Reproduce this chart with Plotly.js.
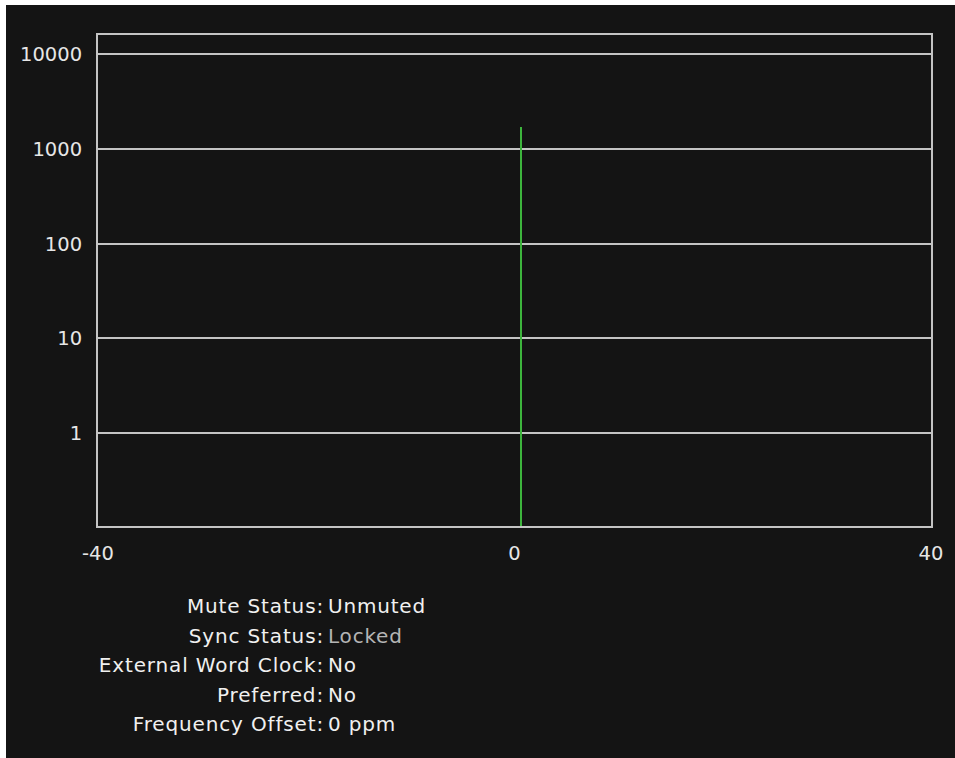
<!DOCTYPE html>
<html>
<head>
<meta charset="utf-8">
<script src="https://cdn.plot.ly/plotly-3.0.1.min.js"></script>
<style>
  html, body { margin: 0; padding: 0; background: #ffffff; width: 955px; height: 758px; overflow: hidden; }
  #panel { position: absolute; left: 6px; top: 5px; width: 949px; height: 753px; background: #141414; }
  #chart { position: absolute; left: 0; top: 0; width: 949px; height: 580px; }
  #status { position: absolute; left: 0; top: 587px; width: 949px; font-family: "DejaVu Sans", sans-serif; font-size: 20px; color: #f0f0f0; }
  .row { position: relative; height: 29.5px; line-height: 29.5px; }
  .lab { position: absolute; right: 631px; text-align: right; white-space: nowrap; letter-spacing: 0.85px; }
  .val { position: absolute; left: 322px; white-space: nowrap; letter-spacing: 0.8px; }
</style>
</head>
<body>
<div id="panel">
  <div id="chart"></div>
  <div id="status"></div>
</div>
<script>
// Data
const offsetsPpm = [0.6];
const counts = [1730];
const xTickVals = [-40, 0, 40];
const xTickText = ["-40", "0", "40"];
const yTickVals = [1, 10, 100, 1000, 10000];
const yTickText = ["1", "10", "100", "1000", "10000"];
const statusLabels = ["Mute Status:", "Sync Status:", "External Word Clock:", "Preferred:", "Frequency Offset:"];
const statusValues = ["Unmuted", "Locked", "No", "No", "0 ppm"];
const statusValueColors = ["#f0f0f0", "#b4b4b4", "#f0f0f0", "#f0f0f0", "#f0f0f0"];

const trace = {
  type: "bar",
  x: offsetsPpm,
  y: counts,
  width: 0.19,
  marker: { color: "#3db53d", line: { width: 0 } },
  hoverinfo: "skip"
};

const axisLine = "#c4c4c4";
const tickFont = { family: "DejaVu Sans, sans-serif", size: 19.5, color: "#e6e6e6" };

const layout = {
  width: 949,
  height: 580,
  margin: { l: 92, r: 24, t: 30, b: 59 },
  paper_bgcolor: "#141414",
  plot_bgcolor: "#141414",
  showlegend: false,
  bargap: 0,
  xaxis: {
    range: [-40, 40],
    tickmode: "array",
    tickvals: xTickVals,
    ticktext: xTickText,
    showgrid: false,
    zeroline: false,
    showline: true,
    mirror: true,
    linecolor: axisLine,
    linewidth: 2,
    ticks: "",
    tickfont: tickFont,
    ticklabelstandoff: 9
  },
  yaxis: {
    type: "log",
    range: [-0.983, 4.206],
    tickmode: "array",
    tickvals: yTickVals,
    ticktext: yTickText,
    showgrid: true,
    gridcolor: axisLine,
    gridwidth: 2,
    zeroline: false,
    showline: true,
    mirror: true,
    linecolor: axisLine,
    linewidth: 2,
    ticks: "",
    tickfont: tickFont,
    ticklabelstandoff: 10
  }
};

Plotly.newPlot("chart", [trace], layout, { staticPlot: true, displayModeBar: false });

const status = document.getElementById("status");
statusLabels.forEach((lab, i) => {
  const row = document.createElement("div");
  row.className = "row";
  const l = document.createElement("span");
  l.className = "lab";
  l.textContent = lab;
  const v = document.createElement("span");
  v.className = "val";
  v.textContent = statusValues[i];
  v.style.color = statusValueColors[i];
  row.appendChild(l);
  row.appendChild(v);
  status.appendChild(row);
});
</script>
</body>
</html>
